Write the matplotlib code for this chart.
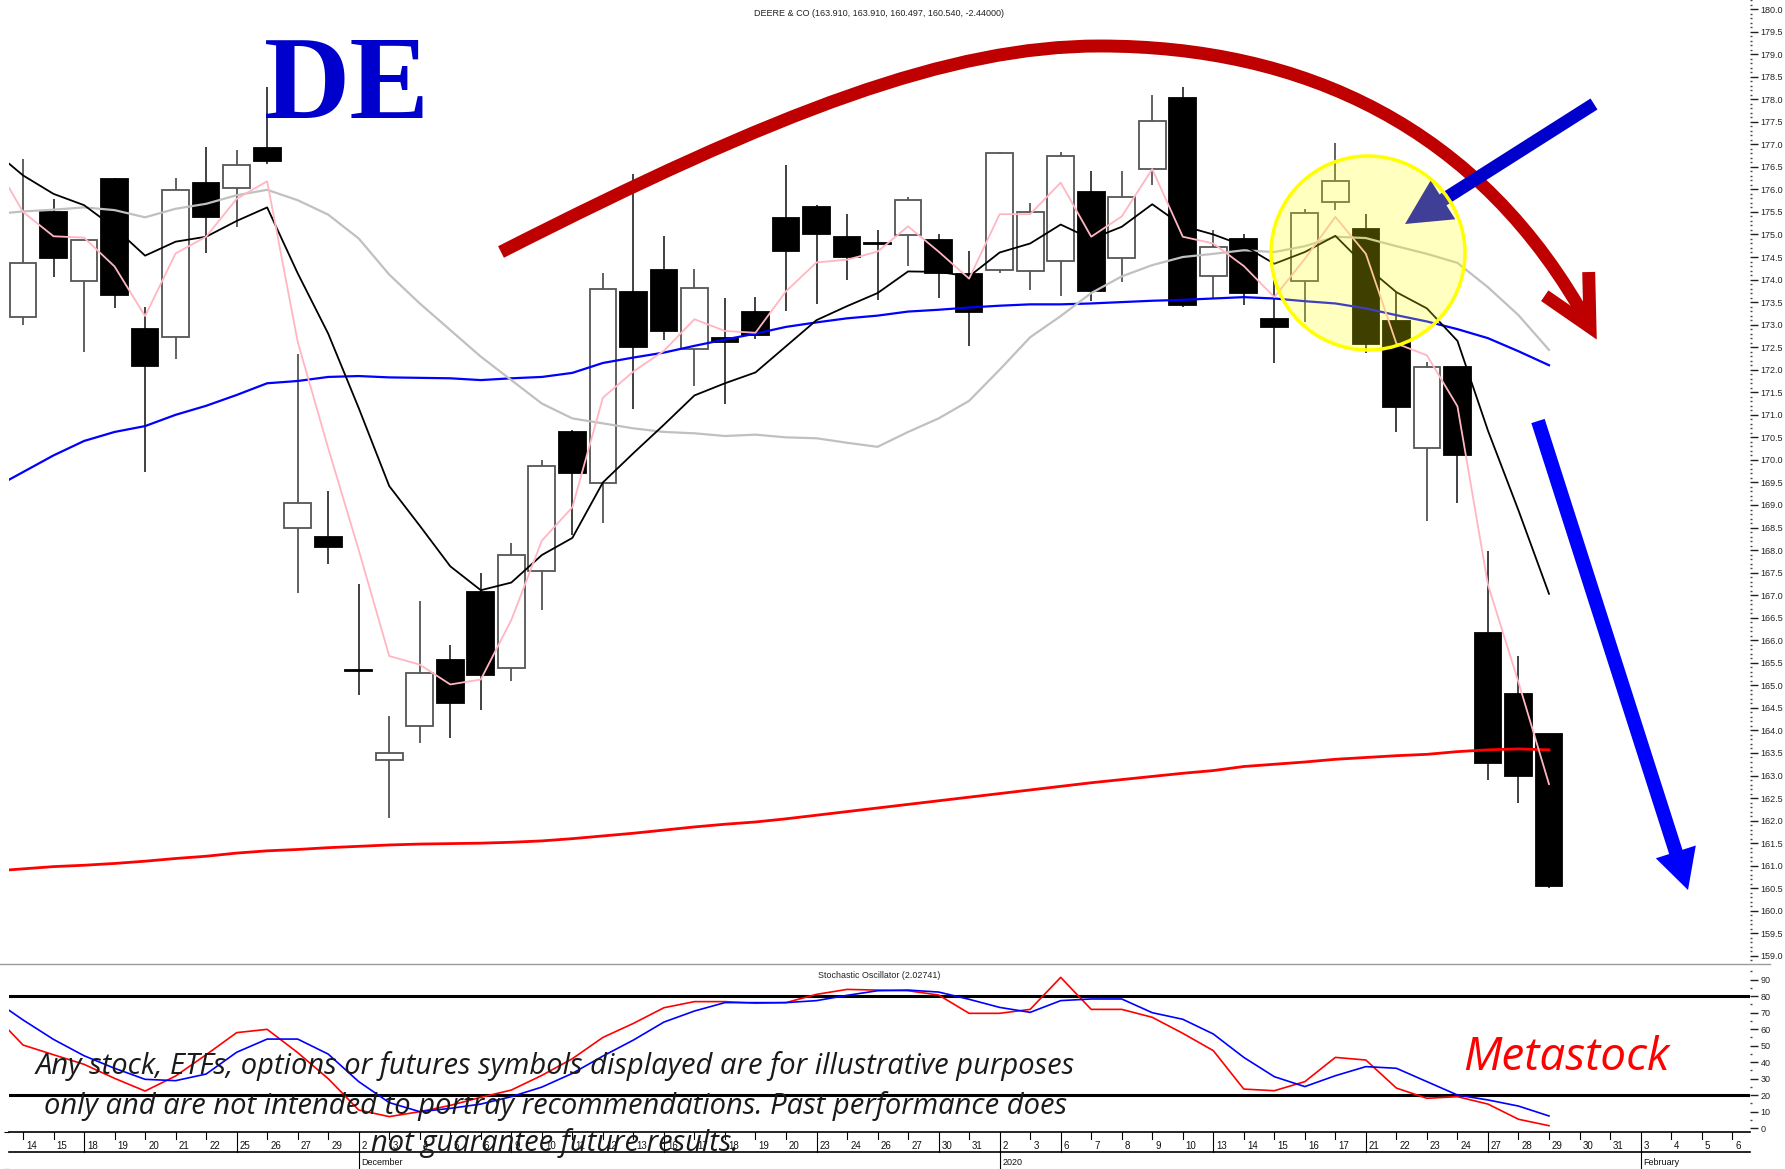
import numpy as np
import matplotlib
matplotlib.use("Agg")
import matplotlib.pyplot as plt
from matplotlib.patches import Polygon, Ellipse, PathPatch
from matplotlib.path import Path
from matplotlib.lines import Line2D
from matplotlib.ticker import MultipleLocator

W, H, DPI = 1785, 1169, 100
NARROW = ['Liberation Sans', 'DejaVu Sans']
ITAL = ['Open Sans', 'DejaVu Sans']

# ---------------- data ----------------
day_labels = ['14', '15', '18', '19', '20', '21', '22', '25', '26', '27', '29',
              '2', '3', '4', '5', '6', '9', '10', '11', '12', '13', '16', '17', '18', '19', '20',
              '23', '24', '26', '27', '30', '31',
              '2', '3', '6', '7', '8', '9', '10', '13', '14', '15', '16', '17', '21', '22', '23',
              '24', '27', '28', '29', '30', '31',
              '3', '4', '5', '6']
week_start_idx = [2, 7, 11, 16, 21, 26, 30, 32, 34, 39, 44, 48, 53]
month_labels = ['December', '2020', 'February']
month_idx = [11, 32, 53]

opens = [173.18, 175.49, 173.96, 176.22, 172.91, 172.72, 176.14, 176.04, 176.91, 168.48,
         168.30, 165.34, 163.34, 164.09, 165.56, 167.07, 165.39, 167.53, 170.61, 169.49,
         173.73, 174.22, 172.46, 172.71, 173.29, 175.37, 175.62, 174.94, 174.80, 174.99,
         174.88, 174.12, 174.22, 174.20, 174.42, 175.95, 174.47, 176.45, 178.02, 174.07,
         174.89, 173.13, 173.97, 175.71, 175.12, 173.09, 170.27, 172.07, 166.17, 164.80,
         163.91]
highs = [176.68, 175.78, 174.87, 176.25, 173.40, 176.26, 176.93, 176.88, 178.28, 172.34,
         169.31, 167.24, 164.32, 166.87, 165.89, 167.49, 168.15, 170.00, 170.66, 174.14,
         176.34, 174.96, 174.24, 173.58, 173.61, 176.54, 175.65, 175.46, 175.10, 175.83,
         175.00, 174.64, 176.83, 175.70, 176.83, 176.40, 176.40, 178.10, 178.27, 175.10,
         175.02, 174.00, 175.56, 177.02, 175.45, 173.72, 172.18, 172.07, 167.97, 165.66,
         163.91]
lows = [172.99, 174.05, 172.39, 173.38, 169.74, 172.24, 174.58, 175.17, 176.56, 167.04,
        167.69, 164.78, 162.05, 163.72, 163.84, 164.45, 165.10, 166.67, 168.34, 168.61,
        171.12, 172.66, 171.65, 171.25, 172.68, 173.30, 173.45, 174.00, 173.54, 174.29,
        173.60, 172.52, 174.15, 173.77, 173.64, 173.52, 173.94, 176.10, 173.39, 173.59,
        173.44, 172.15, 173.06, 175.54, 172.38, 170.62, 168.65, 169.05, 162.90, 162.39,
        160.497]
closes = [174.37, 174.47, 174.87, 173.65, 172.09, 175.98, 175.38, 176.55, 176.62, 169.05,
          168.06, 165.31, 163.50, 165.27, 164.60, 165.22, 167.88, 169.87, 169.71, 173.80,
          172.51, 172.86, 173.81, 172.62, 172.77, 174.64, 175.02, 174.50, 174.78, 175.76,
          174.15, 173.27, 176.80, 175.50, 176.75, 173.75, 175.83, 177.52, 173.44, 174.72,
          173.70, 172.95, 175.48, 176.19, 172.58, 171.18, 172.05, 170.11, 163.28, 162.98,
          160.54]

# moving averages / oscillator, first value is the session before the first candle
ma_pink = [176.67, 175.50, 174.96, 174.93, 174.29, 173.19, 174.58, 174.95, 175.79, 176.18,
           172.62, 170.26, 168.00, 165.65, 165.46, 165.02, 165.13, 166.45, 168.21, 168.95,
           171.38, 171.96, 172.42, 173.12, 172.86, 172.82, 173.74, 174.38, 174.44, 174.62,
           175.18, 174.62, 174.02, 175.45, 175.45, 176.15, 174.95, 175.40, 176.45, 174.95,
           174.80, 174.30, 173.61, 174.46, 175.39, 174.57, 172.58, 172.32, 171.19, 167.23,
           165.07, 162.81]
ma_black = [176.88, 176.31, 175.90, 175.65, 175.15, 174.53, 174.84, 174.95, 175.30, 175.60,
            174.14, 172.80, 171.15, 169.42, 168.54, 167.64, 167.11, 167.28, 167.89, 168.27,
            169.50, 170.15, 170.78, 171.43, 171.70, 171.94, 172.52, 173.10, 173.41, 173.70,
            174.18, 174.17, 174.07, 174.60, 174.80, 175.22, 174.90, 175.17, 175.67, 175.19,
            175.00, 174.75, 174.35, 174.61, 174.97, 174.29, 173.72, 173.36, 172.64, 170.65,
            168.88, 167.03]
ma_gray = [175.45, 175.51, 175.55, 175.60, 175.54, 175.38, 175.57, 175.68, 175.87, 175.99,
           175.76, 175.44, 174.91, 174.11, 173.47, 172.88, 172.29, 171.77, 171.25, 170.92,
           170.81, 170.70, 170.62, 170.59, 170.53, 170.56, 170.50, 170.48, 170.38, 170.29,
           170.62, 170.92, 171.31, 172.00, 172.72, 173.19, 173.70, 174.07, 174.32, 174.50,
           174.57, 174.65, 174.61, 174.74, 174.95, 174.92, 174.74, 174.57, 174.37, 173.83,
           173.21, 172.44]
ma_blue = [169.36, 169.73, 170.10, 170.42, 170.62, 170.75, 171.00, 171.20, 171.44, 171.70,
           171.75, 171.84, 171.86, 171.83, 171.82, 171.81, 171.77, 171.81, 171.84, 171.93,
           172.15, 172.27, 172.38, 172.53, 172.67, 172.80, 172.95, 173.05, 173.14, 173.20,
           173.29, 173.33, 173.38, 173.42, 173.45, 173.45, 173.47, 173.50, 173.53, 173.55,
           173.58, 173.61, 173.58, 173.52, 173.47, 173.36, 173.21, 173.07, 172.90, 172.70,
           172.41, 172.10]
ma_red = [160.88, 160.93, 160.98, 161.01, 161.05, 161.10, 161.16, 161.21, 161.28, 161.33,
          161.36, 161.40, 161.43, 161.46, 161.48, 161.49, 161.50, 161.52, 161.55, 161.60,
          161.66, 161.72, 161.79, 161.86, 161.92, 161.97, 162.04, 162.12, 162.20, 162.28,
          162.36, 162.44, 162.52, 162.60, 162.68, 162.76, 162.84, 162.91, 162.98, 163.05,
          163.11, 163.20, 163.25, 163.30, 163.36, 163.40, 163.44, 163.47, 163.53, 163.57,
          163.59, 163.57]
stoch_k = [69.7, 50.3, 44.4, 38.6, 30.1, 22.4, 31.5, 44.4, 57.8, 59.8,
           45.7, 29.9, 10.9, 6.9, 9.9, 13.7, 18.6, 23.0, 31.9, 42.0,
           54.9, 63.4, 72.9, 76.6, 76.6, 75.6, 76.0, 81.0, 84.0, 83.6,
           83.2, 80.6, 69.5, 69.5, 71.9, 91.3, 71.9, 71.9, 67.1, 57.4,
           46.9, 23.6, 22.6, 28.1, 42.8, 41.2, 24.2, 18.0, 19.0, 14.5,
           5.3, 1.4]
stoch_d = [78.3, 65.5, 53.7, 43.8, 36.2, 29.5, 28.7, 32.7, 45.9, 53.9,
           53.9, 44.8, 28.1, 15.4, 9.9, 11.9, 14.5, 19.0, 24.8, 33.1,
           43.6, 53.3, 64.2, 70.9, 76.0, 76.0, 76.0, 77.2, 80.4, 83.2,
           83.6, 82.4, 78.0, 73.1, 70.1, 77.2, 78.2, 78.2, 69.9, 65.9,
           57.0, 42.8, 31.1, 25.1, 31.7, 37.2, 36.2, 28.1, 20.0, 17.0,
           13.3, 7.3]

title = "DEERE & CO (163.910, 163.910, 160.497, 160.540, -2.44000)"
stoch_title = "Stochastic Oscillator (2.02741)"
disclaimer = ["Any stock, ETFs, options or futures symbols displayed are for illustrative purposes",
              "only and are not intended to portray recommendations. Past performance does",
              "not guarantee future results."]

# ---------------- layout helpers (pixel -> figure fraction) ----------------
def fx(x):
    return x / W

def fy(y):
    return 1 - y / H

def fp(pts):
    return [(fx(x), fy(y)) for x, y in pts]

fig = plt.figure(figsize=(W / DPI, H / DPI), dpi=DPI)
fig.patch.set_facecolor('white')

AX_L, AX_R = 9, 1750
MAIN_TOP, SEP, BOT = 0, 964, 1132
XLIM = (-0.459, 56.586)

ax = fig.add_axes([fx(AX_L), fy(SEP), (AX_R - AX_L) / W, (SEP - MAIN_TOP) / H])
sax = fig.add_axes([fx(AX_L), fy(BOT), (AX_R - AX_L) / W, (BOT - SEP) / H])
dax = fig.add_axes([fx(AX_L), 0, (AX_R - AX_L) / W, (H - BOT) / H])

for a in (ax, sax, dax):
    a.set_xlim(*XLIM)
    for s in a.spines.values():
        s.set_visible(False)
    a.set_xticks([])
    a.patch.set_alpha(0)

# ---------------- price panel ----------------
ax.set_ylim(158.82, 180.20)
n = len(closes)
bw = 0.875
for i in range(n):
    o, hh, ll, c = opens[i], highs[i], lows[i], closes[i]
    up = c >= o
    ax.vlines(i, ll, hh, color='#555555' if up else '#333333', lw=1.3, zorder=2)
    lo, hi = min(o, c), max(o, c)
    ax.bar(i, max(hi - lo, 0.025), bottom=lo, width=bw,
           color='white' if up else 'black',
           edgecolor='#555555' if up else 'black', linewidth=1.3, zorder=3)

xm = np.arange(-1, n)
ax.plot(xm, ma_red, color='#FF0000', lw=2.0, zorder=4)
ax.plot(xm, ma_blue, color='#0000FF', lw=1.6, zorder=4)
ax.plot(xm, ma_gray, color='#C0C0C0', lw=1.6, zorder=4)
ax.plot(xm, ma_black, color='black', lw=1.3, zorder=4)
ax.plot(xm, ma_pink, color='#FFB6C1', lw=1.3, zorder=4)

yt = np.arange(159.0, 180.01, 0.5)
ax.yaxis.tick_right()
ax.set_yticks(yt)
ax.set_yticklabels([f"{v:.1f}" for v in yt])
ax.yaxis.set_minor_locator(MultipleLocator(0.1))
ax.tick_params(axis='y', which='major', length=5.5, width=1, direction='out',
               labelsize=6.5, pad=2, colors='#222222')
ax.tick_params(axis='y', which='minor', length=1.5, width=1, direction='out', colors='#444444')
for t in ax.get_yticklabels():
    t.set_family(NARROW)

# ---------------- stochastic panel ----------------
sax.set_ylim(-2.42, 99.4)
sax.axhline(80, color='black', lw=2.2, zorder=2)
sax.axhline(20, color='black', lw=2.2, zorder=2)
sax.plot(xm, stoch_k, color='#FF0000', lw=1.2, zorder=3)
sax.plot(xm, stoch_d, color='#0000FF', lw=1.2, zorder=3)
sax.yaxis.tick_right()
sax.set_yticks(np.arange(0, 91, 10))
sax.yaxis.set_minor_locator(MultipleLocator(5))
sax.tick_params(axis='y', which='major', length=5.5, width=1, direction='out',
                labelsize=6.5, pad=2, colors='#222222')
sax.tick_params(axis='y', which='minor', length=1.5, width=1, direction='out', colors='#444444')
for t in sax.get_yticklabels():
    t.set_family(NARROW)
sax.text(0.5, 0.96, stoch_title, transform=sax.transAxes, ha='center', va='top',
         fontsize=6.4, family=NARROW, color='#222222')

# ---------------- date axis ----------------
dax.set_ylim(0, 1)
y_mid = (H - 1152) / (H - BOT)
dax.plot(XLIM, [1, 1], color='black', lw=1.2, clip_on=False)
dax.plot(XLIM, [y_mid, y_mid], color='black', lw=1.2, clip_on=False)
for i, lab in enumerate(day_labels):
    top_end = y_mid if i in week_start_idx else 0.82
    dax.plot([i, i], [1, top_end], color='black', lw=0.8)
    dax.text(i + 0.1, 0.62, lab, ha='left', va='center', fontsize=7, family=NARROW,
             color='#111111')
for i, lab in zip(month_idx, month_labels):
    dax.plot([i, i], [y_mid, 0], color='black', lw=0.8)
    dax.text(i + 0.08, 0.17, lab, ha='left', va='center', fontsize=6.5, family=NARROW,
             color='#111111')

# panel separator
fig.add_artist(Line2D([0, fx(1770)], [fy(SEP), fy(SEP)], color='#9a9a9a', lw=1.0))

# ---------------- annotations ----------------
fig.text(fx(879), fy(14), title, ha='center', va='center', fontsize=6.5, family=NARROW,
         color='#222222')
fig.text(fx(347), fy(118), "DE", ha='center', va='baseline', fontsize=86,
         family='Liberation Serif', weight='bold', color='#0000CC')

# red arc with open arrow head
red = '#BE0000'
verts = [(501, 252), (780, 110), (950, 46), (1100, 46), (1300, 46), (1481, 125), (1590, 327)]
codes = [Path.MOVETO, Path.CURVE4, Path.CURVE4, Path.CURVE4, Path.CURVE4, Path.CURVE4, Path.CURVE4]
arc = PathPatch(Path(fp(verts), codes), fill=False, edgecolor=red, lw=9.3,
                capstyle='butt', transform=fig.transFigure)
fig.add_artist(arc)
tip = np.array([1590.0, 327.0])
d = np.array([0.475, 0.88]); d /= np.linalg.norm(d)
def rot(v, a):
    ca, sa = np.cos(a), np.sin(a)
    return np.array([ca * v[0] - sa * v[1], sa * v[0] + ca * v[1]])
arm1 = tip + 55 * rot(-d, np.radians(27))
arm2 = tip + 55 * rot(-d, np.radians(-27))
fig.add_artist(Line2D([fx(arm1[0]), fx(tip[0]), fx(arm2[0])],
                      [fy(arm1[1]), fy(tip[1]), fy(arm2[1])],
                      color=red, lw=9.3, solid_joinstyle='miter', solid_capstyle='butt'))

def arrow_poly(tail, tip, sw, hw, hl):
    tail = np.array(tail, float); tip = np.array(tip, float)
    dd = (tip - tail) / np.linalg.norm(tip - tail)
    nn = np.array([-dd[1], dd[0]])
    base = tip - dd * hl
    pts = [tail + nn * sw / 2, base + nn * sw / 2, base + nn * hw / 2, tip,
           base - nn * hw / 2, base - nn * sw / 2, tail - nn * sw / 2]
    return fp(pts)

fig.add_artist(Polygon(arrow_poly((1594, 104), (1405, 224), 13, 46, 45), closed=True,
                       facecolor='#0000CC', edgecolor='none', transform=fig.transFigure))
fig.add_artist(Polygon(arrow_poly((1538, 421), (1688, 890), 14, 42, 40), closed=True,
                       facecolor='#0000FF', edgecolor='none', transform=fig.transFigure))

# highlight circle
fig.add_artist(Ellipse((fx(1368), fy(253)), 2 * 97 / W, 2 * 97 / H, facecolor=(1, 1, 0, 0.25),
                       edgecolor='#FFFF00', lw=2.5, transform=fig.transFigure))

# disclaimer and brand
for line, yy in zip(disclaimer, [1066, 1106, 1143]):
    fig.text(fx(555), fy(yy), line, ha='center', va='center', fontsize=21, style='italic',
             family=ITAL, color='#1a1a1a')
fig.text(fx(1566), fy(1058), "Metastock", ha='center', va='center', fontsize=33,
         style='italic', family=ITAL, color='#FF0000')

fig.savefig('out.png', dpi=DPI)
